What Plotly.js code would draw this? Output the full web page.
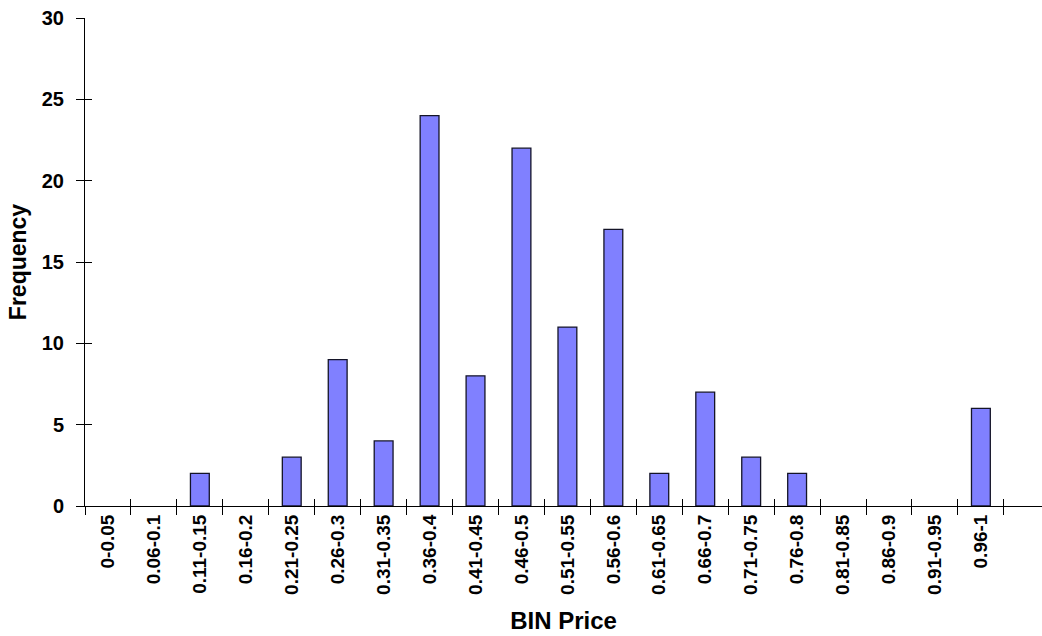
<!DOCTYPE html>
<html>
<head>
<meta charset="utf-8">
<script src="https://cdn.plot.ly/plotly-3.0.1.min.js"></script>
<style>
html,body{margin:0;padding:0;background:#fff;}
#chart{width:1042px;height:636px;}
</style>
</head>
<body>
<div id="chart"></div>
<script>
var binLabels = ["0-0.05","0.06-0.1","0.11-0.15","0.16-0.2","0.21-0.25","0.26-0.3","0.31-0.35","0.36-0.4","0.41-0.45","0.46-0.5","0.51-0.55","0.56-0.6","0.61-0.65","0.66-0.7","0.71-0.75","0.76-0.8","0.81-0.85","0.86-0.9","0.91-0.95","0.96-1"];
var frequency = [0,0,2,0,3,9,4,24,8,22,11,17,2,7,3,2,0,0,0,6];
var yTicks = [0,5,10,15,20,25,30];

var FONT = "Liberation Sans, Arial, sans-serif";
var outlineWidths = frequency.map(function (v) { return v > 0 ? 1.3 : 0; });

var traces = [
  {
    type: "bar",
    x: binLabels,
    y: frequency,
    marker: {color: "#8080ff", line: {color: "#141428", width: outlineWidths}},
    hoverinfo: "x+y",
    showlegend: false
  },
  {
    type: "bar",
    x: binLabels,
    y: frequency,
    xaxis: "x2",
    yaxis: "y2",
    marker: {color: "rgba(0,0,0,0)", line: {width: 0}},
    hoverinfo: "skip",
    showlegend: false
  }
];

var xr = [-0.5, 20.33];
var layout = {
  width: 1042,
  height: 636,
  margin: {l: 85, r: 0, t: 18, b: 130},
  paper_bgcolor: "#ffffff",
  plot_bgcolor: "#ffffff",
  bargap: 0.59,
  font: {family: FONT, color: "#000"},
  xaxis: {
    type: "category",
    range: xr,
    fixedrange: true,
    tickson: "boundaries",
    ticks: "outside",
    ticklen: 8,
    tickwidth: 1,
    tickcolor: "#000",
    showline: true,
    linecolor: "#000",
    linewidth: 1,
    showgrid: false,
    zeroline: false,
    tickangle: -90,
    tickfont: {family: FONT, size: 19, weight: "bold", color: "#000"},
    title: {text: "BIN Price", font: {family: FONT, size: 24, weight: "bold", color: "#000"}, standoff: 18},
    automargin: false
  },
  yaxis: {
    range: [0, 30],
    fixedrange: true,
    tickvals: yTicks,
    ticks: "outside",
    ticklen: 8,
    tickwidth: 1,
    tickcolor: "#000",
    showline: true,
    linecolor: "#000",
    linewidth: 1,
    showgrid: false,
    zeroline: false,
    ticklabelstandoff: 8,
    tickfont: {family: FONT, size: 20, weight: "bold", color: "#000"},
    title: {text: "Frequency", font: {family: FONT, size: 23, weight: "bold", color: "#000"}, standoff: 8},
    automargin: false
  },
  xaxis2: {
    type: "category",
    overlaying: "x",
    anchor: "y2",
    range: xr,
    fixedrange: true,
    tickson: "boundaries",
    ticks: "inside",
    ticklen: 7,
    tickwidth: 1,
    tickcolor: "#000",
    showticklabels: false,
    showline: false,
    showgrid: false,
    zeroline: false
  },
  yaxis2: {
    overlaying: "y",
    anchor: "x2",
    side: "left",
    range: [0, 30],
    fixedrange: true,
    tickvals: yTicks,
    ticks: "inside",
    ticklen: 7,
    tickwidth: 1,
    tickcolor: "#000",
    showticklabels: false,
    showline: false,
    showgrid: false,
    zeroline: false
  }
};

Plotly.newPlot("chart", traces, layout, {displayModeBar: false, staticPlot: true});
</script>
</body>
</html>
